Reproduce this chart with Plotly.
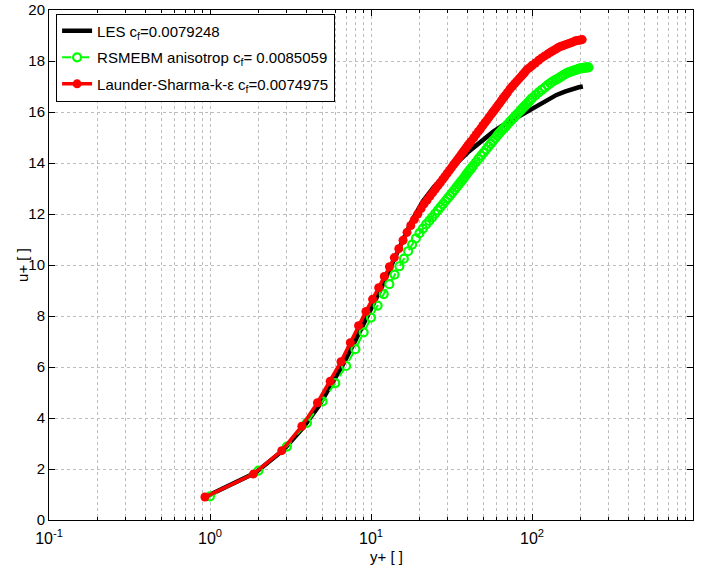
import plotly.graph_objects as go

# Mean velocity profiles in wall units: u+ against y+ (log axis)

# LES reference profile
les_yp = [0.92, 1.9, 2.85, 3.8, 4.75, 5.7, 6.7, 7.8, 9.0, 10.2, 11.6, 13.3, 15.5, 18, 21,
          24.5, 28, 31, 35.7, 40, 45.4, 51, 57.5, 65, 73, 80, 88, 100, 112, 125, 142,
          160, 181, 195, 207]
les_up = [0.88, 1.84, 2.74, 3.63, 4.48, 5.3, 6.1, 6.9, 7.68, 8.38, 9.1, 9.95, 10.9, 11.75, 12.5,
          13.05, 13.45, 13.75, 14.12, 14.42, 14.72, 14.98, 15.23, 15.45, 15.63, 15.79, 15.95,
          16.15, 16.34, 16.5, 16.67, 16.8, 16.93, 16.97, 17.0]

# RSM elliptic blending, anisotropic
rsm_yp = [1, 2, 3, 4, 5, 6, 7, 8, 9, 10, 11, 12, 13, 14, 15, 16, 17, 18, 19, 20, 21, 22,
          23, 24, 25, 26, 27, 28, 29, 30, 31, 32, 33, 34, 35, 36, 37, 38, 39, 40, 41, 42,
          43, 44.7, 46.5, 48.3, 50.1, 51.9, 53.7, 55.5, 57.3, 59.1, 60.9, 62.7, 64.5, 66.3,
          68.1, 69.9, 72.5, 75, 77.5, 80, 82.5, 85, 87.5, 90, 92.5, 95, 97.5, 100, 105, 110,
          115, 120, 125, 130, 135, 140, 145, 150, 155, 160, 165, 170, 175, 180, 185, 190,
          195, 200, 205, 210, 215, 220, 224]
rsm_up = [0.93, 1.94, 2.88, 3.81, 4.65, 5.37, 6.04, 6.7, 7.36, 7.94, 8.41, 8.86, 9.25,
          9.62, 9.95, 10.25, 10.54, 10.8, 11.04, 11.25, 11.43, 11.59, 11.73, 11.87, 12.01,
          12.14, 12.27, 12.39, 12.51, 12.62, 12.73, 12.84, 12.95, 13.05, 13.15, 13.25, 13.34,
          13.44, 13.54, 13.63, 13.72, 13.8, 13.89, 14.02, 14.16, 14.29, 14.41, 14.53, 14.65,
          14.76, 14.87, 14.97, 15.07, 15.17, 15.26, 15.34, 15.41, 15.49, 15.6, 15.7, 15.79,
          15.89, 15.98, 16.06, 16.15, 16.23, 16.31, 16.39, 16.47, 16.54, 16.66, 16.77, 16.87,
          16.96, 17.05, 17.13, 17.2, 17.26, 17.31, 17.37, 17.43, 17.48, 17.53, 17.56, 17.58,
          17.61, 17.64, 17.66, 17.69, 17.71, 17.72, 17.73, 17.74, 17.75, 17.75]

# Launder-Sharma k-epsilon
ls_yp = [0.93, 1.86, 2.79, 3.72, 4.65, 5.58, 6.51, 7.44, 8.37, 9.3, 10.23, 11.16, 12.09,
         13.02, 13.95, 14.88, 15.81, 16.74, 17.67, 18.6, 19.53, 20.46, 21.39, 22.32, 23.25,
         24.18, 25.11, 26.04, 26.97, 27.9, 28.83, 29.76, 30.69, 31.62, 32.55, 33.48, 34.41,
         35.34, 36.27, 37.2, 38.13, 39.06, 39.99, 40.92, 41.85, 43.5, 45, 46.5, 48, 49.5,
         51, 52.5, 54, 55.5, 57, 58.5, 60, 61.5, 63, 64.5, 66, 67.5, 69, 70.5, 73, 75.5, 78,
         80.5, 83, 85.5, 88, 90.5, 93, 95.5, 98, 100.5, 105, 110, 115, 120, 125, 130, 135,
         140, 145, 150, 155, 160, 165, 170, 175, 180, 185, 190, 195, 200, 205]
ls_up = [0.9, 1.8, 2.72, 3.68, 4.6, 5.44, 6.21, 6.95, 7.62, 8.18, 8.66, 9.11, 9.55,
         9.93, 10.29, 10.64, 10.97, 11.28, 11.55, 11.78, 12.0, 12.21, 12.4, 12.55, 12.7,
         12.84, 12.98, 13.11, 13.23, 13.36, 13.48, 13.6, 13.71, 13.82, 13.93, 14.03, 14.13,
         14.23, 14.33, 14.42, 14.51, 14.6, 14.69, 14.77, 14.85, 14.99, 15.12, 15.24, 15.35,
         15.47, 15.58, 15.68, 15.79, 15.89, 15.99, 16.08, 16.17, 16.27, 16.35, 16.44, 16.53,
         16.61, 16.69, 16.77, 16.9, 17.01, 17.11, 17.21, 17.3, 17.39, 17.48, 17.57, 17.66,
         17.72, 17.77, 17.83, 17.92, 18.03, 18.12, 18.2, 18.27, 18.34, 18.4, 18.46, 18.52,
         18.57, 18.6, 18.63, 18.66, 18.69, 18.72, 18.75, 18.78, 18.8, 18.81, 18.82, 18.84]

legend_names = [
    "LES c<sub>f</sub>=0.0079248",
    "RSMEBM anisotrop c<sub>f</sub>= 0.0085059",
    "Launder-Sharma-k-ε c<sub>f</sub>=0.0074975",
]

x_tickvals = [0.1, 1, 10, 100, 1000]
x_ticktext = ["10<sup>-1</sup>", "10<sup>0</sup>", "10<sup>1</sup>", "10<sup>2</sup>", "10<sup>3</sup>"]
y_tickvals = list(range(0, 21, 2))

FONT = "Liberation Sans, Arial, Helvetica, sans-serif"
GRID = "#bdbdbd"

fig = go.Figure()
fig.add_trace(go.Scatter(
    x=les_yp, y=les_up, mode="lines", name=legend_names[0], legendgroup="a",
    line=dict(color="black", width=4.5),
))
fig.add_trace(go.Scatter(
    x=rsm_yp, y=rsm_up, mode="lines+markers", name=legend_names[1], legendgroup="b",
    line=dict(color="#00ff00", width=2, dash="dash"),
    marker=dict(symbol="circle-open", size=8, color="#00ff00", line=dict(width=2.2, color="#00ff00")),
))
fig.add_trace(go.Scatter(
    x=ls_yp, y=ls_up, mode="lines+markers", name=legend_names[2], legendgroup="c",
    line=dict(color="#ff0000", width=3.5),
    marker=dict(symbol="circle", size=9, color="#ff0000"),
))

fig.update_xaxes(
    type="log", range=[-1, 3], automargin=False,
    tickvals=x_tickvals, ticktext=x_ticktext,
    ticks="inside", ticklen=6, tickcolor="black",
    showline=True, linecolor="black", linewidth=1, mirror="allticks",
    showgrid=True, gridcolor=GRID, griddash="dot", gridwidth=1,
    minor=dict(ticks="inside", ticklen=3, tickcolor="black", dtick="D1",
               showgrid=True, gridcolor=GRID, griddash="dot", gridwidth=1),
    zeroline=False, ticklabelstandoff=4,
    tickfont=dict(family=FONT, size=16, color="black"),
)
fig.update_yaxes(
    range=[0, 20], tickvals=y_tickvals, automargin=False,
    ticks="inside", ticklen=6, tickcolor="black",
    showline=True, linecolor="black", linewidth=1, mirror="allticks",
    showgrid=True, gridcolor=GRID, griddash="dot", gridwidth=1,
    zeroline=False,
    tickfont=dict(family=FONT, size=15, color="black"),
)

# Axis titles
fig.add_annotation(text="y+ [ ]", xref="paper", yref="paper", x=0.524, y=-0.072,
                   xanchor="center", yanchor="middle", showarrow=False,
                   font=dict(family=FONT, size=15, color="black"))
fig.add_annotation(text="u+ [ ]", xref="paper", yref="paper", x=-0.042, y=0.5,
                   xanchor="center", yanchor="middle", showarrow=False, textangle=-90,
                   font=dict(family=FONT, size=15, color="black"))

fig.update_layout(
    width=704, height=570,
    margin=dict(l=49, r=11, t=10, b=50),
    paper_bgcolor="white", plot_bgcolor="white",
    font=dict(family=FONT, size=14, color="black"),
    showlegend=True,
    legend=dict(
        x=0.011, y=0.993, xanchor="left", yanchor="top",
        bgcolor="white", bordercolor="black", borderwidth=1,
        font=dict(family=FONT, size=15, color="black"),
        tracegroupgap=4, itemwidth=30,
    ),
)

fig.write_html("out.html")
